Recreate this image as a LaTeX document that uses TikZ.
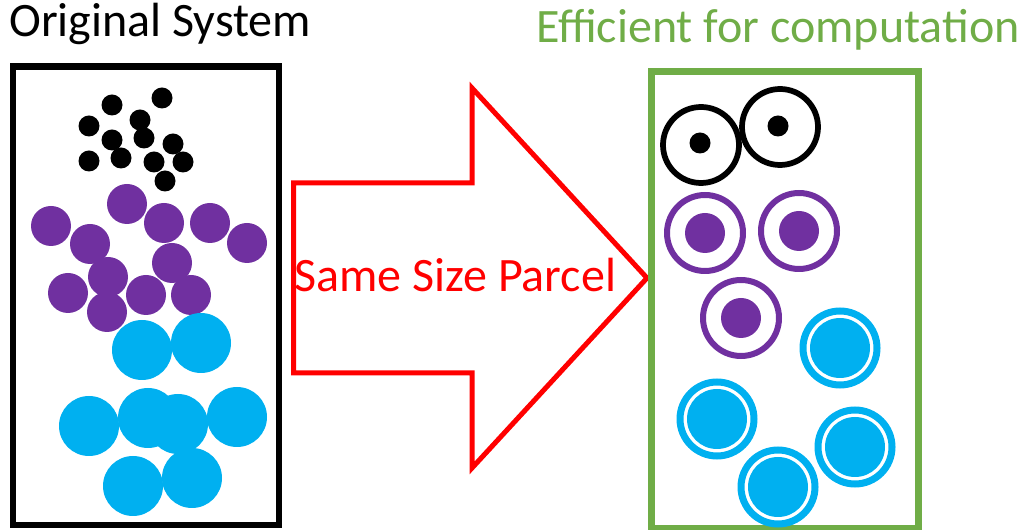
\documentclass[tikz,border=0pt]{standalone}
\usepackage{fontspec}
\setmainfont{Carlito}
\usetikzlibrary{positioning}
\definecolor{parcelpurple}{HTML}{7030A0}
\definecolor{parcelcyan}{HTML}{00B0F0}
\definecolor{parcelgreen}{HTML}{70AD47}

\begin{document}
\begin{tikzpicture}[x=0.75pt,y=-0.75pt,
		every node/.style={font=\fontsize{36}{43}\selectfont, inner sep=0pt},
		frame/.style={line width=4.9pt},
		blackring/.style={draw=black, line width=4.3pt},
		purplering/.style={draw=parcelpurple, line width=4.5pt},
		cyanring/.style={draw=parcelcyan, line width=5.25pt},
		]
		\useasboundingbox (0,0) rectangle (1025,530);

		% titles
		\node (orig) [anchor=base west] at (9,37) {Original System};
		\node (eff) [anchor=base west, text=parcelgreen] at (536,43) {Efficient for computation};

		% original system
		\draw[frame] (13,66.5) rectangle (279,525);
		\foreach \x/\y in {112/105,162/98,89/126,140/120,112/140,144/138,173/144,89/161,121/158,154/162,183/162,165/181}
			\fill (\x,\y) circle (10.5);
		\foreach \x/\y in {127/204,51/226,164/223,210/223,90/244,247/243,108/277,172/263,68/293,146/295,191/295,107/312}
			\fill[parcelpurple] (\x,\y) circle (20);
		\foreach \x/\y in {142/350,201/343,89/426,148/418,178/424,237/417,133/486,192/478}
			\fill[parcelcyan] (\x,\y) circle (30);

		% arrow
		\draw[red, line width=3.75pt, line join=miter]
			(293.5,183) -- (472,183) -- (472,88) -- (647,278) -- (472,468) -- (472,373) -- (293.5,373) -- cycle;
		\node (parcel) [anchor=base west, text=red] at (294,292) {Same Size Parcel};

		% parcels
		\draw[parcelgreen, line width=5.25pt] (651.5,71.5) rectangle (918.5,529);
		\draw[blackring] (701,145) circle (38);
		\fill (700,143) circle (10.5);
		\draw[blackring] (780,127) circle (38);
		\fill (778,126) circle (10.5);
		\foreach \x/\y in {705/233,799/231,741/318} {
			\draw[purplering] (\x,\y) circle (38);
			\fill[parcelpurple] (\x,\y) circle (20);
		}
		\foreach \x/\y in {840/348,717/419,855/447,778/487} {
			\draw[cyanring] (\x,\y) circle (37);
			\fill[parcelcyan] (\x,\y) circle (30);
		}
	\end{tikzpicture}
\end{document}
